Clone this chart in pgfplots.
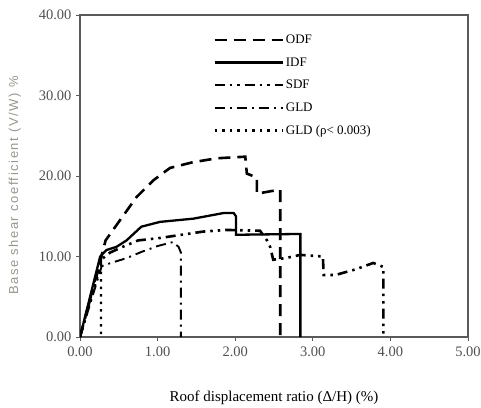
\documentclass[border=0pt]{standalone}
\usepackage{pgfplots}
\pgfplotsset{compat=1.18}
\usepackage{fontspec}
\setmainfont{Liberation Serif}
\setsansfont{Liberation Sans}
\newfontfamily\ylabfont[LetterSpace=12]{Liberation Sans}
\definecolor{framec}{HTML}{5A5A5A}
\definecolor{labc}{HTML}{505050}
\definecolor{ylabc}{HTML}{9A968C}
\begin{document}
\begin{tikzpicture}
\useasboundingbox (-80pt,-70pt) rectangle (401pt,337pt);
\begin{axis}[
  at={(0,0)}, anchor=south west,
  scale only axis,
  width=388pt, height=322pt,
  xmin=0, xmax=5, ymin=0, ymax=40,
  xtick={0,1,2,3,4,5}, ytick={0,10,20,30,40},
  axis line style={framec, line width=1.4pt},
  tick style={framec, line width=1pt},
  tick align=outside, major tick length=4pt,
  xtick pos=bottom, ytick pos=left,
  /pgf/number format/assume math mode=true,
  /pgf/number format/.cd, fixed, fixed zerofill, precision=2, /pgfplots/.cd,
  ticklabel style={font=\fontsize{14.5}{16}\selectfont, text=labc},
  yticklabel style={xshift=-1pt},
  xticklabel style={yshift=-2pt},
  xlabel={Roof displacement ratio (Δ/H) (\%)},
  ylabel={\ylabfont Base shear coefficient (V/W) \%},
  xlabel style={font=\fontsize{15}{17}\selectfont, at={(axis description cs:0.5,-0.189)}, anchor=center},
  ylabel style={font=\fontsize{13}{15}\selectfont, text=ylabc, at={(axis description cs:-0.168,0.47)}, anchor=center},
  legend style={draw=none, fill=none, at={(0.343,0.945)}, anchor=north west,
    font=\fontsize{13}{15}\selectfont, row sep=8.5pt, cells={anchor=west},
    inner sep=0pt},
  legend image code/.code={\draw[#1] (0pt,0pt) -- (68pt,0pt);},
]
% ODF
\addplot[black, line width=2.6pt, dash pattern=on 12pt off 7pt] coordinates {
(0,0) (0.33,12.0) (0.5,14.3) (0.73,17.4) (0.95,19.5) (1.16,21.0) (1.45,21.7) (1.76,22.2) (2.13,22.4) (2.15,20.3) (2.28,19.8) (2.28,17.8) (2.45,18.1) (2.58,18.3) (2.58,0)};
\addlegendentry{ODF}
% IDF
\addplot[black, line width=2.3pt] coordinates {
(0,0) (0.26,10.0) (0.34,10.8) (0.47,11.2) (0.6,12.0) (0.79,13.7) (1.03,14.3) (1.46,14.7) (1.85,15.4) (1.98,15.4) (2.01,15.0) (2.01,12.7) (2.84,12.8) (2.84,0)};
\addlegendentry{IDF}
% SDF
\addplot[black, line width=2.6pt, dash pattern=on 10pt off 5pt on 2.5pt off 5pt on 2.5pt off 5pt] coordinates {
(0,0) (0.27,9.6) (0.39,10.5) (0.55,11.2) (0.75,12.0) (1.03,12.3) (1.59,13.1) (1.89,13.3) (2.32,13.2) (2.41,12.0) (2.45,11.2) (2.49,9.6) (2.65,9.8) (2.84,10.2) (3.13,10.0) (3.14,7.7) (3.29,7.7) (3.55,8.4) (3.78,9.2) (3.91,8.7) (3.91,0)};
\addlegendentry{SDF}
% GLD
\addplot[black, line width=1.9pt, dash pattern=on 10pt off 5pt on 2pt off 5pt] coordinates {
(0,0) (0.28,8.8) (0.4,9.2) (0.6,9.8) (0.8,10.6) (1.0,11.3) (1.2,11.8) (1.27,11.2) (1.3,10.5) (1.3,0)};
\addlegendentry{GLD}
% GLD rho
\addplot[black, line width=2.4pt, dash pattern=on 2.5pt off 5pt] coordinates {
(0,0) (0.27,9.0) (0.27,0)};
\addlegendentry{GLD (ρ< 0.003)}
\end{axis}
\end{tikzpicture}
\end{document}
